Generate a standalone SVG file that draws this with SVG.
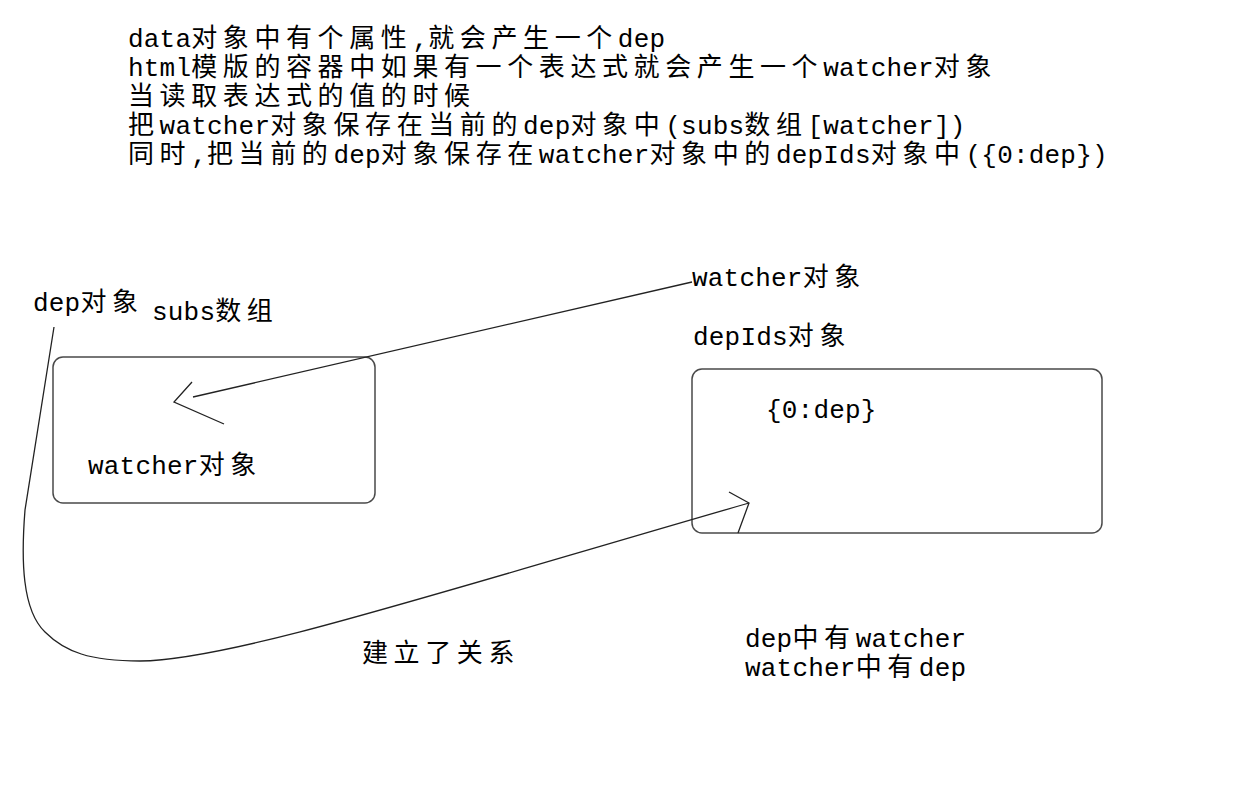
<svg xmlns="http://www.w3.org/2000/svg" width="1259" height="790" viewBox="0 0 1259 790">
<style>
text{font-family:"Liberation Mono","Noto Sans CJK SC",monospace;font-size:26px;fill:#000;letter-spacing:5.6px}
.l{letter-spacing:0.2px}
.box{fill:none;stroke:#4a4a4a;stroke-width:1.5}
.ln{fill:none;stroke:#222;stroke-width:1.3;stroke-linejoin:miter}
</style>
<rect width="1259" height="790" fill="#fff"/>
<g id="notes">
<text x="128" y="47"><tspan class="l">data</tspan>对象中有个属性<tspan class="l">,</tspan>就会产生一个<tspan class="l">dep</tspan></text>
<text x="128" y="76"><tspan class="l">html</tspan>模版的容器中如果有一个表达式就会产生一个<tspan class="l">watcher</tspan>对象</text>
<text x="128" y="105">当读取表达式的值的时候</text>
<text x="128" y="134">把<tspan class="l">watcher</tspan>对象保存在当前的<tspan class="l">dep</tspan>对象中<tspan class="l">(subs</tspan>数组<tspan class="l">[watcher])</tspan></text>
<text x="128" y="163">同时<tspan class="l">,</tspan>把当前的<tspan class="l">dep</tspan>对象保存在<tspan class="l">watcher</tspan>对象中的<tspan class="l">depIds</tspan>对象中<tspan class="l">({0:dep})</tspan></text>
</g>
<g id="dep-label"><text x="33" y="311"><tspan class="l">dep</tspan>对象</text></g>
<g id="subs-box">
<rect class="box" x="53" y="357" width="322" height="146" rx="10"/>
<text x="152" y="320"><tspan class="l">subs</tspan>数组</text>
<text x="88" y="474"><tspan class="l">watcher</tspan>对象</text>
</g>
<g id="watcher-label"><text x="692" y="286"><tspan class="l">watcher</tspan>对象</text></g>
<g id="depIds-box">
<rect class="box" x="692" y="369" width="410" height="164" rx="10"/>
<text x="693" y="345"><tspan class="l">depIds</tspan>对象</text>
<text x="766" y="418" class="l">{0:dep}</text>
</g>
<g id="relation-label"><text x="362" y="662">建立了关系</text></g>
<g id="summary">
<text x="745" y="647"><tspan class="l">dep</tspan>中有<tspan class="l">watcher</tspan></text>
<text x="745" y="676"><tspan class="l">watcher</tspan>中有<tspan class="l">dep</tspan></text>
</g>
<g id="connectors">
<path class="ln" d="M692,282 L193,397"/>
<path class="ln" d="M192,382 L174,402 L224,424"/>
<path class="ln" d="M54,327 L25,510 C21,560 22,610 45,632 C65,652 90,661 140,661 C230,660 420,598 749,503"/>
<path class="ln" d="M729,492 L749,503 L738,533"/>
</g>
</svg>
